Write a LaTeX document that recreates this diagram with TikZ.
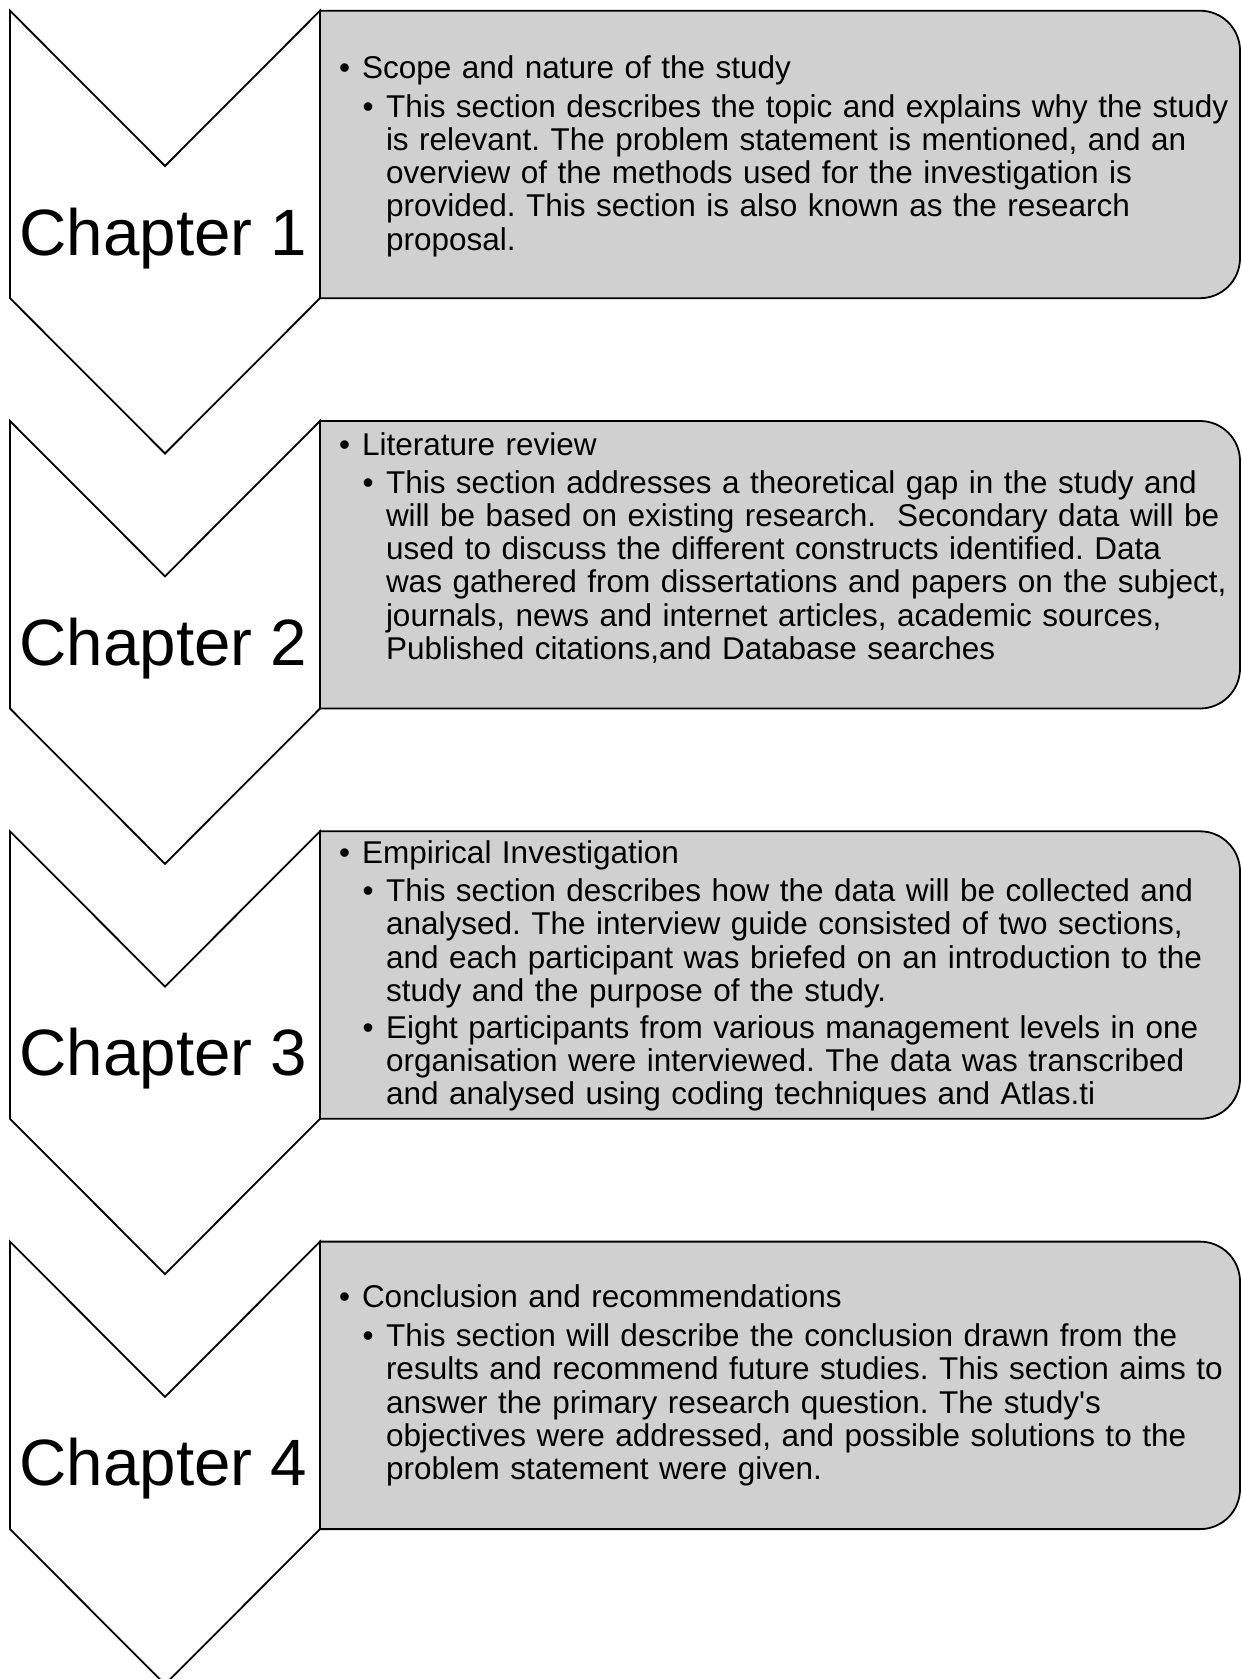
\documentclass[tikz,border=0pt]{standalone}
\usepackage{fontspec}
\setmainfont{Liberation Sans}
\definecolor{boxgray}{RGB}{208,208,208}
\newcommand\sq{\XeTeXglyph\XeTeXcharglyph"27\relax}
\frenchspacing
\tikzset{
  shapeline/.style={draw=black, line width=1.8pt, line join=miter},
  txt/.style={anchor=base west, inner sep=0pt, outer sep=0pt, font=\fontsize{31.5}{33.2}\selectfont\frenchspacing, text width=900pt, align=left},
  bul/.style={anchor=base west, inner sep=0pt, outer sep=0pt, font=\fontsize{31.5}{33.2}\selectfont},
  chap/.style={anchor=base west, inner sep=0pt, outer sep=0pt, font=\fontsize{65.5}{78}\selectfont}
}
\newcommand\chevshape[1]{%
  \draw[shapeline, fill=white] (10,#1) -- (165,#1+155.3) -- (320,#1) -- (320,#1+287.5) -- (165,#1+442.8) -- (10,#1+287.5) -- cycle;}
\newcommand\textbox[1]{%
  \draw[shapeline, fill=boxgray] (320,#1) -- (1200,#1) .. controls (1222.1,#1) and (1240,#1+17.9) .. (1240,#1+40) -- (1240,#1+247.5) .. controls (1240,#1+269.6) and (1222.1,#1+287.5) .. (1200,#1+287.5) -- (320,#1+287.5) -- cycle;}
\begin{document}
\begin{tikzpicture}[x=1pt,y=-1pt]
\useasboundingbox[fill=white] (0,0) rectangle (1242,1679);
% shapes
\chevshape{10.7}
\chevshape{421.0}
\chevshape{831.3}
\chevshape{1241.6}
\textbox{10.7}
\textbox{421.0}
\textbox{831.3}
\textbox{1241.6}
% chapter labels
\node[chap] (c1) at (19.5,255) {Chapter 1};
\node[chap] (c2) at (19.5,665.3) {Chapter 2};
\node[chap] (c3) at (19.5,1075.6) {Chapter 3};
\node[chap] (c4) at (19.5,1485.9) {Chapter 4};
% box 1
\node[bul] (b1a) at (339,78.3) {•};
\node[txt] (t1a) at (362,78.3) {Scope and nature of the study};
\node[bul] (b1b) at (362.7,117.3) {•};
\node[txt] (t1b) at (386,117.3) {This section describes the topic and explains why the study\\
is relevant. The problem statement is mentioned, and an\\
overview of the methods used for the investigation is\\
provided. This section is also known as the research\\
proposal.};
% box 2
\node[bul] (b2a) at (339,455) {•};
\node[txt] (t2a) at (362,455) {Literature review};
\node[bul] (b2b) at (362.7,493.3) {•};
\node[txt] (t2b) at (386,493.3) {This section addresses a theoretical gap in the study and\\
will be based on existing research.~ Secondary data will be\\
used to discuss the different constructs identified. Data\\
was gathered from dissertations and papers on the subject,\\
journals, news and internet articles, academic sources,\\
Published citations,and Database searches};
% box 3
\node[bul] (b3a) at (339,863.3) {•};
\node[txt] (t3a) at (362,863.3) {Empirical Investigation};
\node[bul] (b3b) at (362.7,901.7) {•};
\node[txt] (t3b) at (386,901.7) {This section describes how the data will be collected and\\
analysed. The interview guide consisted of two sections,\\
and each participant was briefed on an introduction to the\\
study and the purpose of the study.};
\node[bul] (b3c) at (362.7,1038.3) {•};
\node[txt] (t3c) at (386,1038.3) {Eight participants from various management levels in one\\
organisation were interviewed. The data was transcribed\\
and analysed using coding techniques and Atlas.ti};
% box 4
\node[bul] (b4a) at (339,1307.7) {•};
\node[txt] (t4a) at (362,1307.7) {Conclusion and recommendations};
\node[bul] (b4b) at (362.7,1346.7) {•};
\node[txt] (t4b) at (386,1346.7) {This section will describe the conclusion drawn from the\\
results and recommend future studies. This section aims to\\
answer the primary research question. The study\sq s\\
objectives were addressed, and possible solutions to the\\
problem statement were given.};
\end{tikzpicture}
\end{document}
